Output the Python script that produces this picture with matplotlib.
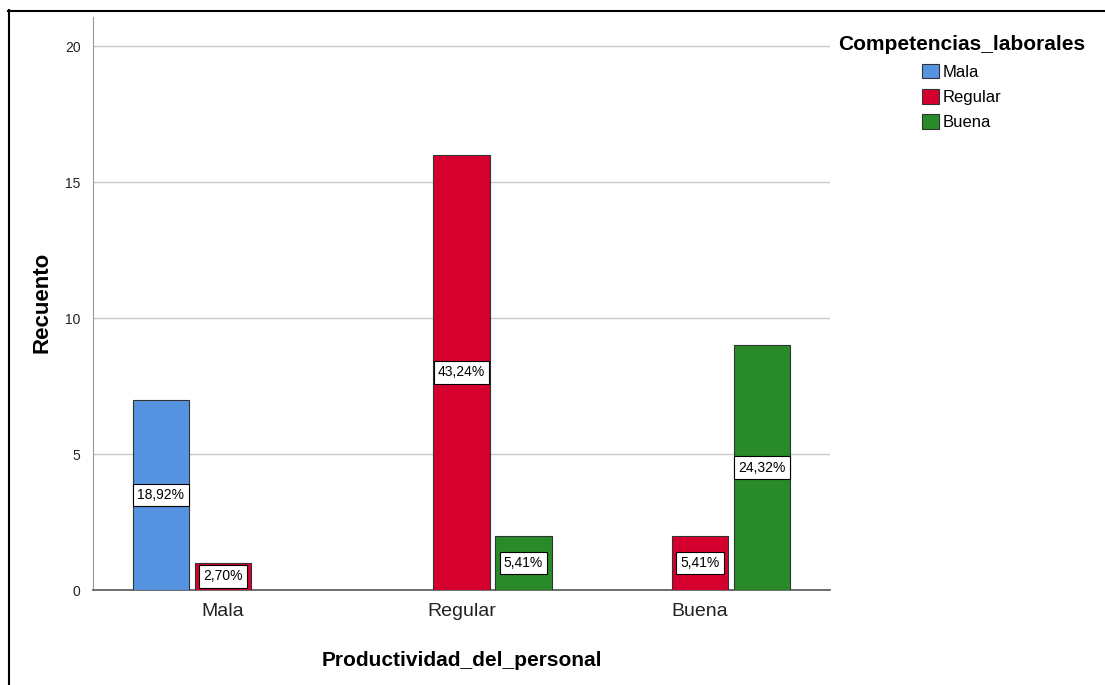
import numpy as np
import matplotlib.pyplot as plt
from matplotlib.patches import Patch
from matplotlib.lines import Line2D

plt.rcParams['font.family'] = ['Liberation Sans', 'DejaVu Sans']

# datos (recuento por categoria de productividad)
categorias = ['Mala', 'Regular', 'Buena']
competencias = ['Mala', 'Regular', 'Buena']
recuento_mala = [7, 0, 0]
recuento_regular = [1, 16, 2]
recuento_buena = [0, 2, 9]
colores = ['#5694E2', '#D6002F', '#288A28']

series = [recuento_mala, recuento_regular, recuento_buena]
total = sum(sum(s) for s in series)

W, H = 1105, 685
fig = plt.figure(figsize=(W / 100, H / 100), dpi=100)
ax = fig.add_axes([93 / W, 1 - 590 / H, (830 - 93) / W, (590 - 17) / H])

x = np.arange(len(categorias))
ancho = 0.235
paso = 0.26

for i, (valores, color) in enumerate(zip(series, colores)):
    off = (i - 1) * paso
    for xi, v in zip(x, valores):
        if v == 0:
            continue
        ax.bar(xi + off, v, width=ancho, color=color, edgecolor='#333333',
               linewidth=0.8, zorder=3)
        etiqueta = f'{v / total * 100:.2f}%'.replace('.', ',')
        ax.text(xi + off, v / 2, etiqueta, ha='center', va='center', fontsize=10,
                zorder=4, bbox=dict(boxstyle='square,pad=0.3', fc='white',
                                    ec='black', lw=0.8))

ax.set_xlim(-0.545, 2.545)
ax.set_ylim(0, 21.07)
ax.set_xticks(x)
ax.set_xticklabels(categorias)
ax.set_yticks([0, 5, 10, 15, 20])
ax.yaxis.grid(True, color='#c8c8c8', linewidth=1)
ax.set_axisbelow(True)
for s in ['top', 'right']:
    ax.spines[s].set_visible(False)
ax.spines['left'].set_color('#999999')
ax.spines['bottom'].set_color('#555555')
ax.spines['bottom'].set_linewidth(1.2)
ax.tick_params(axis='both', length=0)
ax.tick_params(axis='y', labelsize=10, pad=9, labelcolor='#222222')
ax.tick_params(axis='x', labelsize=14, pad=9, labelcolor='#222222')

fig.text(42 / W, 1 - 302 / H, 'Recuento', rotation=90, ha='center', va='center',
         fontsize=16, fontweight='bold')
fig.text(462 / W, 1 - 660 / H, 'Productividad_del_personal', ha='center',
         va='center', fontsize=15, fontweight='bold')

handles = [Patch(facecolor=c, edgecolor='#333333', linewidth=0.8) for c in colores]
fig.legend(handles, competencias, title='Competencias_laborales',
           loc='upper center', bbox_to_anchor=(962 / W, 1 - 27 / H),
           frameon=False, fontsize=12,
           title_fontproperties={'weight': 'bold', 'size': 15},
           handlelength=1.0, handleheight=1.0, handletextpad=0.25,
           labelspacing=0.55, borderpad=0)

# marco exterior
fig.add_artist(Line2D([8.5 / W, 8.5 / W], [0, 1 - 10 / H], transform=fig.transFigure,
                      color='black', linewidth=1.5))
fig.add_artist(Line2D([8 / W, 1], [1 - 10.5 / H, 1 - 10.5 / H], transform=fig.transFigure,
                      color='black', linewidth=1.5))

fig.savefig('out.png', dpi=100)
